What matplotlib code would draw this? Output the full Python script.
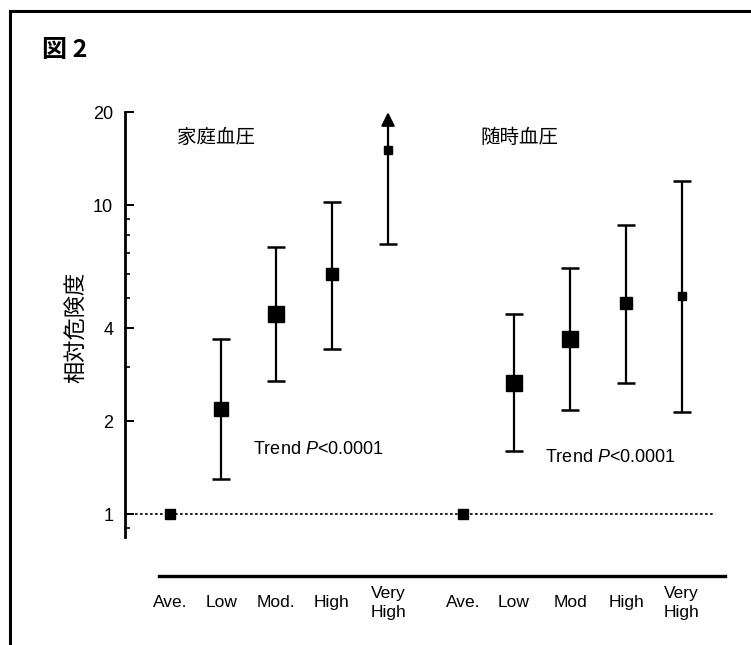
import matplotlib
matplotlib.use("Agg")
import matplotlib.pyplot as plt
from matplotlib.lines import Line2D
import numpy as np

plt.rcParams["font.family"] = ["Liberation Sans", "Noto Sans CJK JP", "DejaVu Sans"]
plt.rcParams["mathtext.fontset"] = "custom"
plt.rcParams["mathtext.it"] = "Liberation Sans:italic"
plt.rcParams["mathtext.rm"] = "Liberation Sans"

# data (relative risk, 95% CI)
categories = ["Ave.", "Low", "Mod.", "High", "Very\nHigh",
              "Ave.", "Low", "Mod", "High", "Very\nHigh"]
home_rr = [1.0, 2.19, 4.45, 5.98, 15.1]
home_lo = [np.nan, 1.30, 2.70, 3.42, 7.47]
home_hi = [np.nan, 3.69, 7.31, 10.2, 20.0]   # last one is open-ended (arrow)
clinic_rr = [1.0, 2.65, 3.69, 4.82, 5.08]
clinic_lo = [np.nan, 1.60, 2.17, 2.65, 2.14]
clinic_hi = [np.nan, 4.44, 6.26, 8.62, 11.96]
y_ticks = [1, 2, 4, 10, 20]
y_minor = [0.9, 3, 5, 6, 7, 8, 9]

# layout / style
home_x = [1.0, 1.94, 2.95, 3.97, 5.0]
clinic_x = [6.38, 7.31, 8.34, 9.37, 10.39]
home_ms = [7.2, 10.0, 11.0, 9.2, 5.8]
clinic_ms = [7.0, 12.0, 11.2, 8.8, 5.8]
open_ended = [False, False, False, False, True]

W, H = 751, 645
fig = plt.figure(figsize=(W / 100, H / 100), dpi=100)
ax = fig.add_axes([125 / W, 1 - 576 / H, (730 - 125) / W, (576 - 100) / H])

ax.set_yscale("log")
ax.set_ylim(0.63, 21.9)
ax.set_xlim(0.174, 11.275)


def draw_group(xs, rr, lo, hi, ms, open_flags):
    for x, v, l, h, m, op in zip(xs, rr, lo, hi, ms, open_flags):
        if not np.isnan(l):
            if op:
                ax.annotate("", xy=(x, h), xytext=(x, l),
                            arrowprops=dict(arrowstyle="-|>", color="black",
                                            lw=1.6, mutation_scale=20,
                                            shrinkA=0, shrinkB=0),
                            annotation_clip=False)
                ax.plot(x, l, marker="_", color="black", markersize=13,
                        markeredgewidth=1.8)
            else:
                ax.errorbar(x, v, yerr=[[v - l], [h - v]], fmt="none",
                            ecolor="black", elinewidth=1.6, capsize=6.5,
                            capthick=1.8)
        ax.plot(x, v, marker="s", color="black", markersize=m, zorder=5)


draw_group(home_x, home_rr, home_lo, home_hi, home_ms, open_ended)
draw_group(clinic_x, clinic_rr, clinic_lo, clinic_hi, clinic_ms,
           [False] * len(clinic_x))

# reference line at RR = 1
ax.hlines(1, 0.174, 10.96, colors="black", linestyles=(0, (1.6, 1.4)),
          lw=1.2, zorder=1)

# axes styling
for side in ["top", "right"]:
    ax.spines[side].set_visible(False)
ax.spines["left"].set_bounds(0.84, 20)
ax.spines["left"].set_linewidth(2.0)
ax.spines["bottom"].set_bounds(0.798, 11.18)
ax.spines["bottom"].set_linewidth(2.4)

ax.set_yticks(y_ticks)
ax.set_yticklabels([str(t) for t in y_ticks])
ax.set_yticks(y_minor, minor=True)
ax.yaxis.set_minor_formatter(plt.NullFormatter())
ax.tick_params(axis="y", which="major", direction="in", length=6.5,
               width=1.4, pad=8.5, labelsize=13)
ax.tick_params(axis="y", which="minor", direction="in", length=3.5,
               width=1.2)

ax.set_xticks(home_x + clinic_x)
ax.set_xticklabels(categories, family=["Liberation Sans Narrow", "Liberation Sans"],
                   fontsize=12.5, linespacing=1.3)
ax.tick_params(axis="x", length=0, pad=19.4)
for lab in ax.get_xticklabels():
    lab.set_verticalalignment("center")

# annotations
cjk = ["Noto Sans CJK JP", "DejaVu Sans"]
ax.text(1.13, 16.5, "家庭血圧", family=cjk, fontsize=14, va="center", ha="left")
ax.text(6.69, 16.6, "随時血圧", family=cjk, fontsize=14, va="center", ha="left")
ax.text(2.52, 1.62, "Trend $P$<0.0001", fontsize=13, va="center", ha="left")
ax.text(7.88, 1.52, "Trend $P$<0.0001", fontsize=13, va="center", ha="left")

fig.text(76 / W, 1 - 327 / H, "相対危険度", family=cjk, fontsize=16,
         rotation=90, va="center", ha="center")
fig.text(42 / W, 1 - 50 / H, "図 2", family=cjk, fontsize=18, weight="bold",
         va="center", ha="left")

# frame of the figure panel (left and top edges)
fig.add_artist(Line2D([10 / W, 10 / W], [0, 1 - 11 / H], color="black", lw=2.2))
fig.add_artist(Line2D([10 / W, 1.0], [1 - 11 / H, 1 - 11 / H], color="black", lw=2.2))

fig.savefig("out.png", dpi=100)
